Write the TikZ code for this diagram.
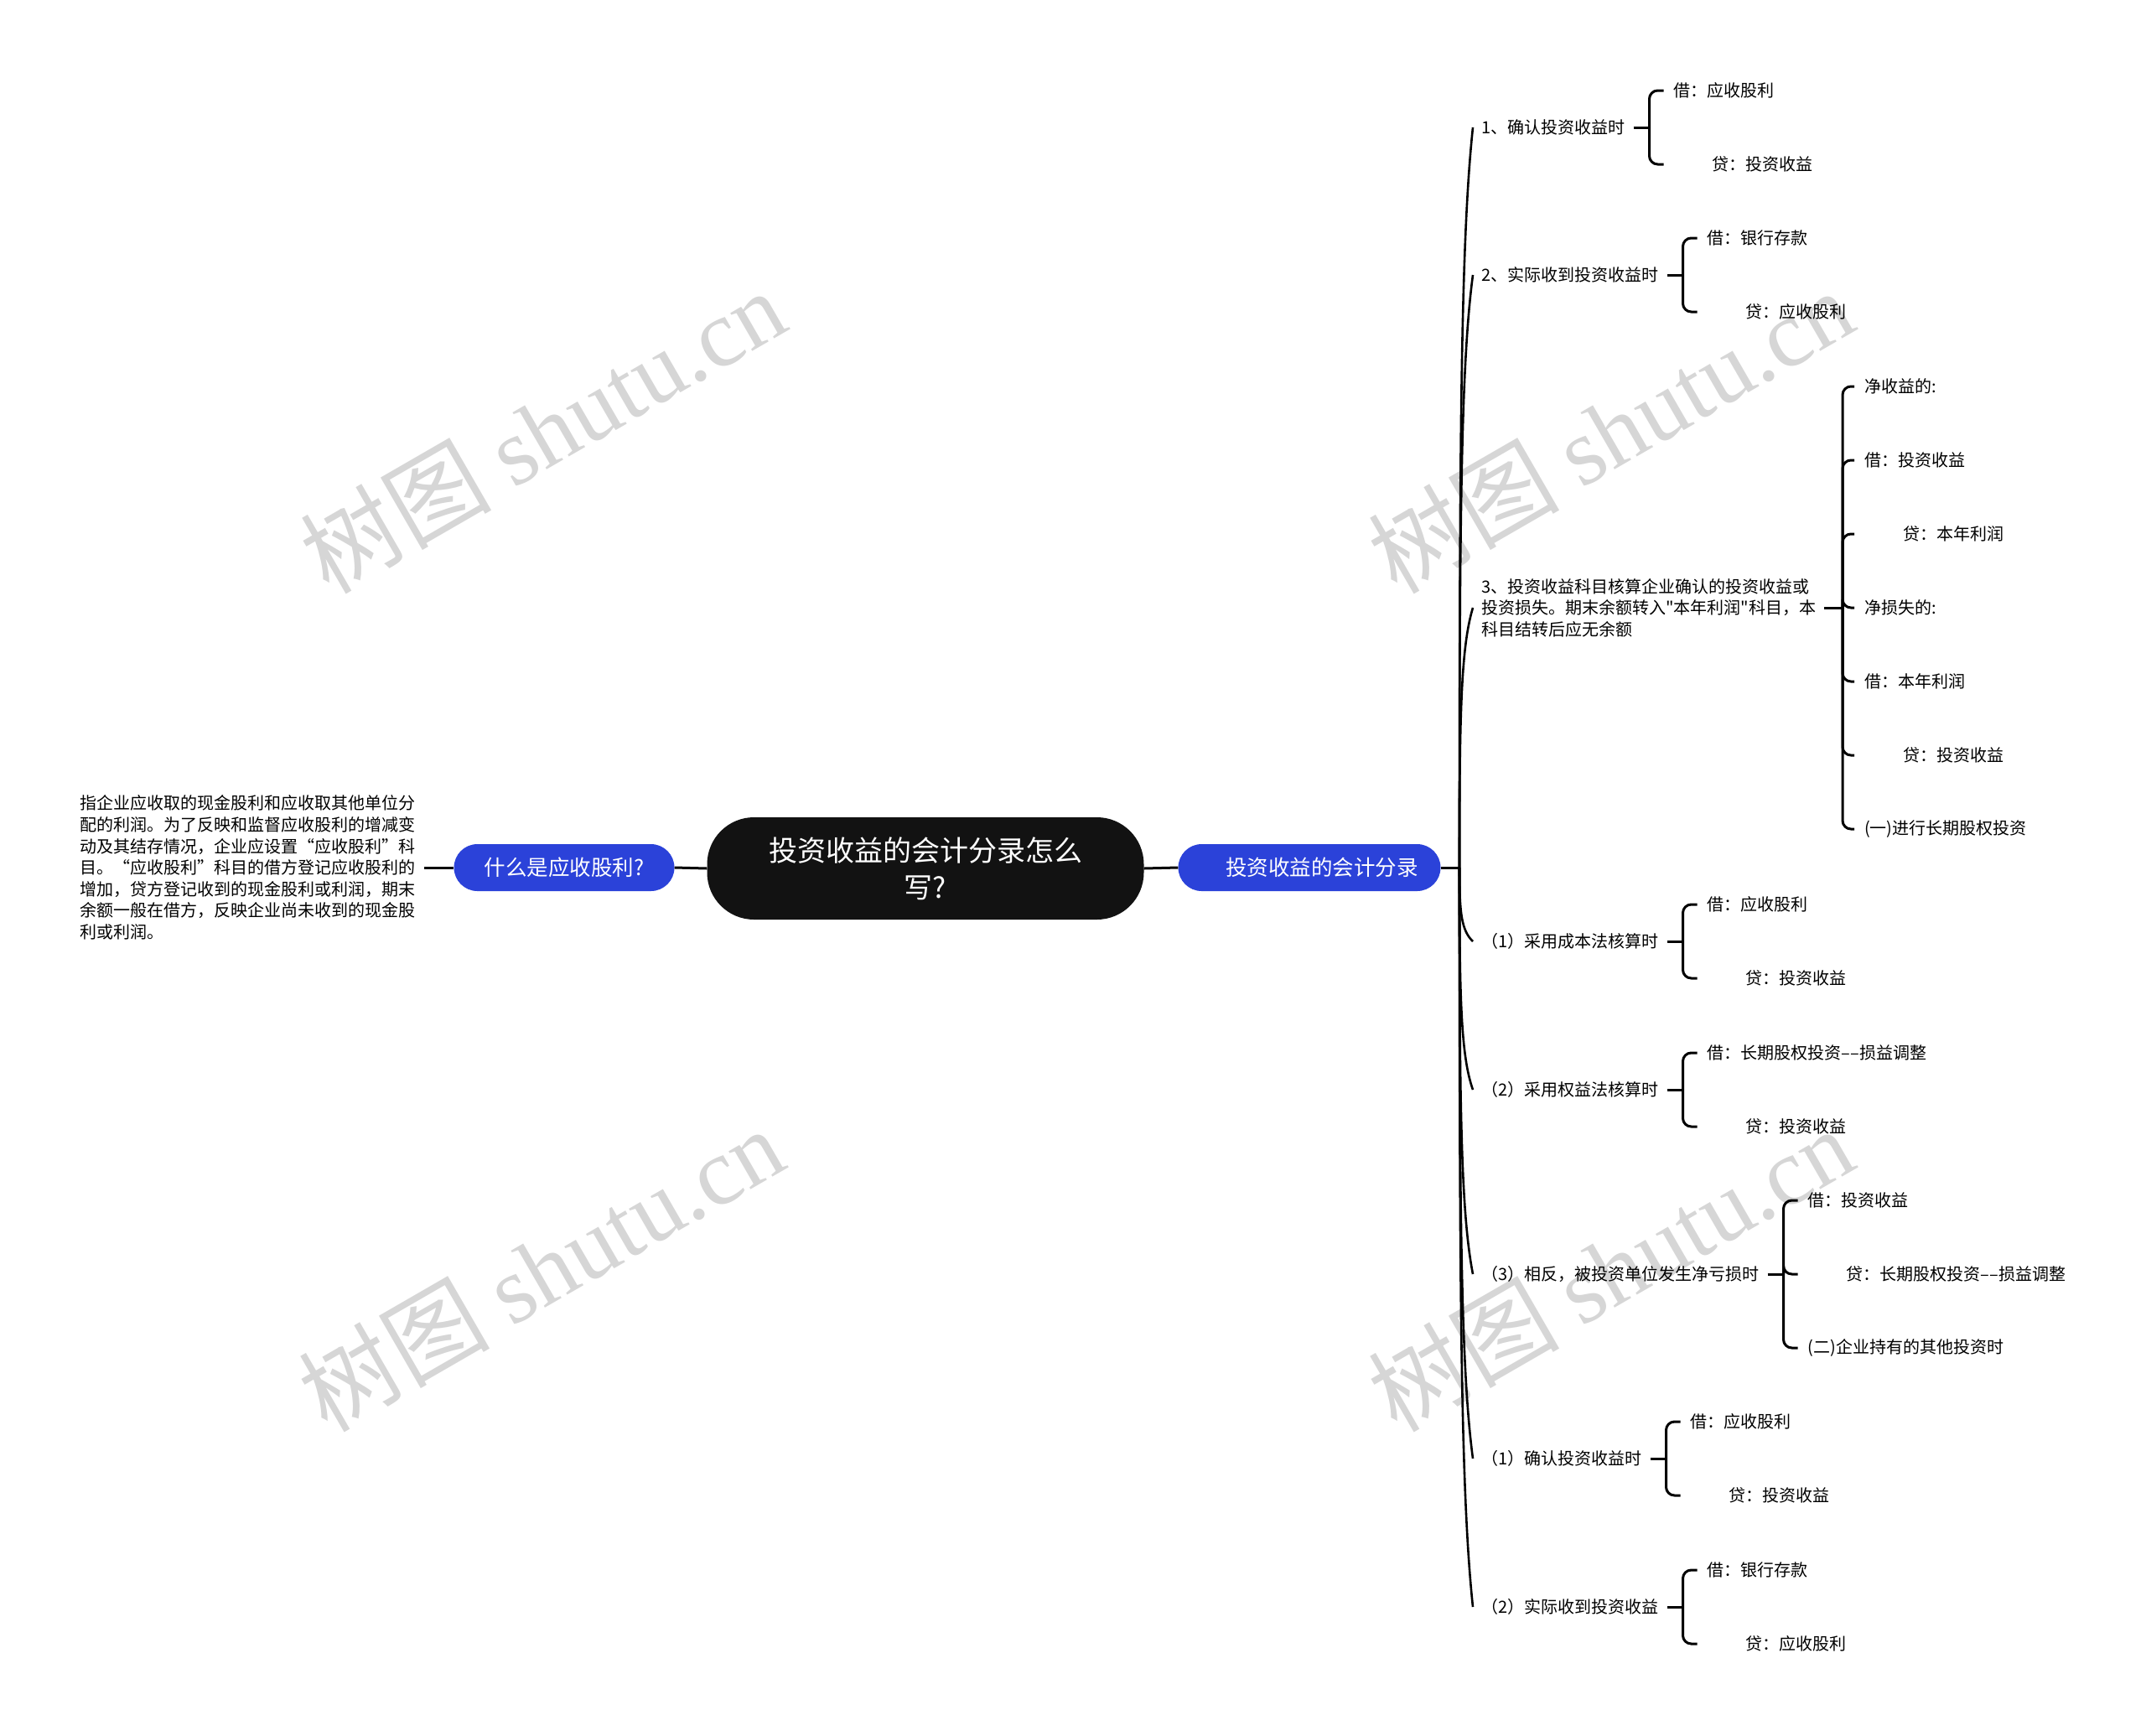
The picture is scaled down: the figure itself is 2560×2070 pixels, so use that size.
\documentclass[tikz,border=0pt]{standalone}
\usepackage{fontspec}
\setmainfont{Noto Sans CJK SC}[Ligatures=TeXOff]
\newfontfamily\markfont{Liberation Serif}
\usetikzlibrary{calc}
\definecolor{qblue}{HTML}{2B42D9}

\begin{document}
\begin{tikzpicture}
    [
x=1pt,y=-1pt,
rootnode/.style={fill=black!93, text=white, rounded corners=56pt, minimum width=521pt, minimum height=122pt, align=center, font=\fontsize{34}{44}\selectfont},
bluenode/.style={fill=qblue, text=white, rounded corners=28pt, minimum height=56pt, font=\fontsize{25.5}{30}\selectfont},
kidnode/.style={anchor=west, inner xsep=10pt, align=left, font=\fontsize{20}{25.4}\selectfont},
leafnode/.style={anchor=west, inner xsep=12pt, font=\fontsize{20}{25.4}\selectfont},
markword/.style={text=black!16, rotate=30, font=\fontsize{114}{120}\selectfont},
trunk/.style={line width=2.6pt},
brace/.style={line width=3pt, rounded corners=10pt}
]
\useasboundingbox (0,0) rectangle (2560,2070);

% watermark
\foreach \wx/\wy [count=\i] in {647/514, 1921/514, 645/1514, 1921/1514}
  \node[markword] (mark\i) at (\wx,\wy) {树图 {\markfont shutu.cn}};

\node[rootnode] (root) at (1104,1036) {投资收益的会计分录怎么\\写?};
\node[bluenode, minimum width=263pt] (what) at (673,1035) {什么是应收股利?};
\node[anchor=east, inner xsep=10pt, align=left, font=\fontsize{20}{25.6}\selectfont] (whatnote) at (506,1035)
  {指企业应收取的现金股利和应收取其他单位分\\配的利润。为了反映和监督应收股利的增减变\\动及其结存情况，企业应设置“应收股利”科\\目。“应收股利”科目的借方登记应收股利的\\增加，贷方登记收到的现金股利或利润，期末\\余额一般在借方，反映企业尚未收到的现金股\\利或利润。};
\node[bluenode, minimum width=313pt] (entry) at (1562,1035) {\hspace*{15pt}投资收益的会计分录\hspace*{-15pt}};
\coordinate (hub) at (1741,1035);

\draw[line width=3pt] (whatnote.east) -- (what.west);
\draw[line width=3pt] (what.east) -- (root.west);
\draw[line width=3pt] (root.east) -- (entry.west);
\draw[line width=3pt] (entry.east) -- (hub);

% second level
\node[kidnode] (k1) at (1757,152) {1、确认投资收益时};
\node[kidnode] (k2) at (1757,328) {2、实际收到投资收益时};
\node[kidnode] (k3) at (1757,725) {3、投资收益科目核算企业确认的投资收益或\\投资损失。期末余额转入"本年利润"科目，本\\科目结转后应无余额};
\node[kidnode] (k4) at (1757,1123) {（1）采用成本法核算时};
\node[kidnode] (k5) at (1757,1300) {（2）采用权益法核算时};
\node[kidnode] (k6) at (1757,1520) {（3）相反，被投资单位发生净亏损时};
\node[kidnode] (k7) at (1757,1740) {（1）确认投资收益时};
\node[kidnode] (k8) at (1757,1917) {（2）实际收到投资收益};

\foreach \kid/\dy in {k1/-883, k2/-707, k3/-310, k4/88, k5/265, k6/485, k7/705, k8/882}
  \draw[trunk] (hub) .. controls +(0,{0.6*\dy}) and +(-14,{-0.15*\dy}) .. (\kid.west);

\foreach \i in {1,2,4,5,6,7,8}
  \coordinate (h\i) at ($(k\i.east)+(19,0)$);
\coordinate (h3) at (2198,725);

% leaves
\node[leafnode] (k1a) at ($(h1)+(17,-44)$) {借：应收股利};
\node[leafnode] (k1b) at ($(h1)+(17,44)$) {\hspace*{46pt}贷：投资收益};
\node[leafnode] (k2a) at ($(h2)+(17,-44)$) {借：银行存款};
\node[leafnode] (k2b) at ($(h2)+(17,44)$) {\hspace*{46pt}贷：应收股利};
\node[leafnode] (k3a) at ($(h3)+(14,-264)$) {净收益的:};
\node[leafnode] (k3b) at ($(h3)+(14,-176)$) {借：投资收益};
\node[leafnode] (k3c) at ($(h3)+(14,-88)$) {\hspace*{46pt}贷：本年利润};
\node[leafnode] (k3d) at ($(h3)+(14,0)$) {净损失的:};
\node[leafnode] (k3e) at ($(h3)+(14,88)$) {借：本年利润};
\node[leafnode] (k3f) at ($(h3)+(14,176)$) {\hspace*{46pt}贷：投资收益};
\node[leafnode] (k3g) at ($(h3)+(14,264)$) {(一)进行长期股权投资};
\node[leafnode] (k4a) at ($(h4)+(17,-44)$) {借：应收股利};
\node[leafnode] (k4b) at ($(h4)+(17,44)$) {\hspace*{46pt}贷：投资收益};
\node[leafnode] (k5a) at ($(h5)+(17,-44)$) {借：长期股权投资\textendash\textendash 损益调整};
\node[leafnode] (k5b) at ($(h5)+(17,44)$) {\hspace*{46pt}贷：投资收益};
\node[leafnode] (k6a) at ($(h6)+(17,-88)$) {借：投资收益};
\node[leafnode] (k6b) at ($(h6)+(17,0)$) {\hspace*{46pt}贷：长期股权投资\textendash\textendash 损益调整};
\node[leafnode] (k6c) at ($(h6)+(17,88)$) {(二)企业持有的其他投资时};
\node[leafnode] (k7a) at ($(h7)+(17,-44)$) {借：应收股利};
\node[leafnode] (k7b) at ($(h7)+(17,44)$) {\hspace*{46pt}贷：投资收益};
\node[leafnode] (k8a) at ($(h8)+(17,-44)$) {借：银行存款};
\node[leafnode] (k8b) at ($(h8)+(17,44)$) {\hspace*{46pt}贷：应收股利};

\foreach \i in {1,...,8}
  \draw[brace] (k\i.east) -- (h\i);
\foreach \h/\lf in {h1/k1a, h1/k1b, h2/k2a, h2/k2b, h3/k3a, h3/k3b, h3/k3c, h3/k3d, h3/k3e, h3/k3f, h3/k3g,
  h4/k4a, h4/k4b, h5/k5a, h5/k5b, h6/k6a, h6/k6b, h6/k6c, h7/k7a, h7/k7b, h8/k8a, h8/k8b}
  \draw[brace] (\h) |- (\lf.west);
\end{tikzpicture}
\end{document}
